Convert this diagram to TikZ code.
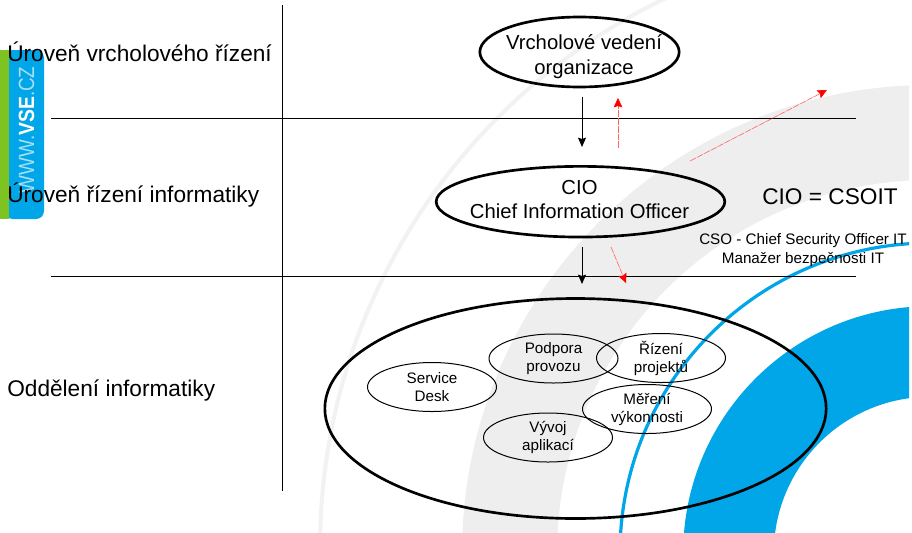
\documentclass[tikz,border=0pt]{standalone}
\usepackage{fontspec}
\setmainfont{Liberation Sans}
\definecolor{vseblue}{HTML}{00A6E8}
\definecolor{vsegreen}{HTML}{7DC423}
\definecolor{vsegrey}{HTML}{EEEEEE}
\definecolor{vsefaint}{HTML}{F2F2F2}
\usetikzlibrary{shapes.geometric,arrows.meta}
\tikzset{
  level/.style={font=\fontsize{17}{20}\selectfont,anchor=west,inner sep=0pt},
  rule/.style={draw=black,line width=0.75pt},
  down/.style={draw=black,line width=0.75pt,-{Stealth[length=7pt,width=6pt,inset=1pt]}},
  redarrow/.style={draw=red!60!white,line width=0.45pt,dash pattern=on 5pt off 0.8pt,-{Stealth[length=7pt,width=6.5pt,inset=1pt,fill=red,color=red,sep=0pt]}},
  bigell/.style={ellipse,draw=black,line width=2pt,align=center,inner sep=0pt,outer sep=0pt},
  bigtext/.style={font=\fontsize{15.2}{18.4}\selectfont,align=center,inner sep=0pt},
  smallell/.style={ellipse,draw=black,line width=0.75pt,align=center,inner sep=0pt,minimum width=96.75pt,minimum height=36.75pt,font=\fontsize{11.4}{13.5}\selectfont},
}
\begin{document}
\begin{tikzpicture}[x=0.75pt,y=-0.75pt]
\useasboundingbox (0,0) rectangle (912,532);
\fill[white] (0,0) rectangle (912,532);
\begin{scope}
\clip (0,0) rectangle (909,532);
\draw[vsegrey,line width=71.25pt] (930,553) circle[radius=420.5];
\draw[vsefaint,line width=3pt] (930,548) circle[radius=610];
\draw[vseblue,line width=2.4pt] (930,553) circle[radius=310];
\draw[vseblue,line width=68pt] (930,553) circle[radius=201.5];
\end{scope}
% sidebar
\fill[vseblue,rounded corners=6pt] (5,50) -- (44,50) -- (44,219) -- (5,219) -- cycle;
\fill[vsegreen] (0,50) rectangle (9,219);
\node[rotate=90,inner sep=0pt] (logo) at (26.5,130) {\fontsize{16.5}{20}\selectfont\scalebox{0.86}[1]{\color{white!65!vseblue}WWW.}\scalebox{0.88}[1]{\color{white}\textbf{VSE}}\scalebox{0.86}[1]{\color{white!65!vseblue}.CZ}};
% axes
\coordinate (vt) at (282,5);
\coordinate (vb) at (282,491);
\draw[rule] (vt) -- (vb);
\coordinate (h1a) at (51,118);
\coordinate (h1b) at (856,118);
\coordinate (h2a) at (51,276);
\coordinate (h2b) at (856,276);
\draw[rule] (h1a) -- (h1b);
\draw[rule] (h2a) -- (h2b);
% levels
\node[level] (l1) at (7,52) {Úroveň vrcholového řízení};
\node[level] (l2) at (7,195.5) {Úroveň řízení informatiky};
\node[level] (l3) at (7,390) {Oddělení informatiky};
% main ellipses
\node[bigell,minimum width=149.5pt,minimum height=52.5pt] (top) at (579.5,52) {};
\node[bigtext,font=\fontsize{15.2}{19}\selectfont] (toptext) at (584,56.5) {Vrcholové vedení\\organizace};
\node[bigell,minimum width=216.5pt,minimum height=53pt] (cio) at (580.5,201.7) {};
\node[bigtext] (ciotext) at (579.5,199.5) {CIO\\Chief Information Officer};
\node[bigell,minimum width=376pt,minimum height=165pt] (dept) at (575.5,408.5) {};
% small ellipses
\node[smallell] (sd) at (432,387) {Service\\Desk};
\node[smallell] (pp) at (553.5,358.5) {Podpora\\provozu};
\node[smallell] (rp) at (661,358) {Řízení\\projektů};
\node[smallell] (mv) at (647,409) {Měření\\výkonnosti};
\node[smallell] (va) at (548,437.5) {Vývoj\\aplikací};
% labels
\node[font=\fontsize{17}{22}\selectfont,inner sep=0pt] (eq) at (830,197) {CIO = CSOIT};
\node[font=\fontsize{11.4}{13.8}\selectfont,align=center,inner sep=0pt] (cso) at (803,250) {CSO - Chief Security Officer IT\\Manažer bezpečnosti IT};
% arrows
\coordinate (a1) at (582,97);
\coordinate (a2) at (582,147);
\draw[down] (a1) -- (a2);
\coordinate (a3) at (582,247);
\coordinate (a4) at (582,284);
\draw[down] (a3) -- (a4);
\coordinate (r1) at (618,148);
\coordinate (r2) at (618,98);
\draw[redarrow] (r1) -- (r2);
\coordinate (r3) at (690,161);
\coordinate (r4) at (827,90);
\draw[redarrow] (r3) -- (r4);
\coordinate (r5) at (611,247);
\coordinate (r6) at (626,283);
\draw[redarrow] (r5) -- (r6);
\end{tikzpicture}
\end{document}
